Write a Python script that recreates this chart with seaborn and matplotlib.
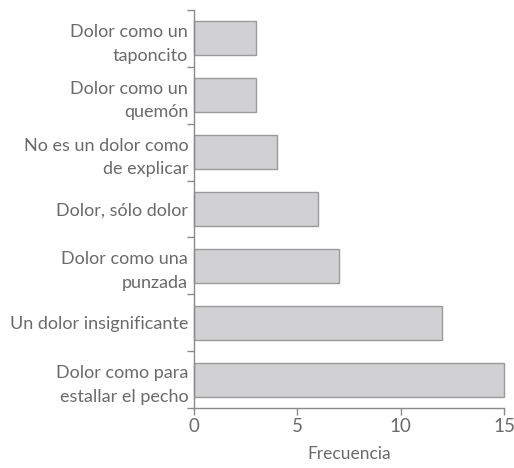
import matplotlib
matplotlib.use("Agg")
import matplotlib.pyplot as plt
import seaborn as sns
import pandas as pd
import numpy as np

categorias = [
    "Dolor como un\ntaponcito",
    "Dolor como un\nquemón",
    "No es un dolor como\nde explicar",
    "Dolor, sólo dolor",
    "Dolor como una\npunzada",
    "Un dolor insignificante",
    "Dolor como para\nestallar el pecho",
]
frecuencia = [3, 3, 4, 6, 7, 12, 15]

df = pd.DataFrame({"categoria": categorias, "frecuencia": frecuencia})

sns.set_style("white")
plt.rcParams["font.family"] = ["Lato", "DejaVu Sans"]

gris = "#6a6a6a"
fig = plt.figure(figsize=(5.14, 4.68), dpi=100)
ax = fig.add_axes([0.377, 0.128, 0.604, 0.851])

sns.barplot(data=df, x="frecuencia", y="categoria", orient="h",
            color="#d1d1d3", edgecolor="#9a9a9a", linewidth=1.0,
            width=0.6, saturation=1, ax=ax)
for p in ax.patches:
    p.set_clip_on(False)

ax.set_xlim(0, 15)
ax.set_ylim(6.5, -0.5)
ax.set_xticks([0, 5, 10, 15])
ax.set_yticks(range(len(categorias)))
ax.set_yticks(np.arange(-0.5, len(categorias)), minor=True)
ax.set_yticklabels(categorias, linespacing=1.6)

ax.tick_params(axis="y", which="major", length=0, pad=4, labelsize=13, labelcolor=gris)
ax.tick_params(axis="y", which="minor", length=5, width=1, color="#8a8a8a", left=True)
ax.tick_params(axis="x", length=5, width=1, color="#8a8a8a", labelsize=13.5,
               labelcolor=gris, bottom=True, pad=2)

for s in ["top", "right"]:
    ax.spines[s].set_visible(False)
for s in ["left", "bottom"]:
    ax.spines[s].set_color("#8a8a8a")
    ax.spines[s].set_linewidth(1)

ax.set_xlabel("Frecuencia", fontsize=12.5, color=gris, labelpad=8)
ax.set_ylabel("")

fig.savefig("out.png", dpi=100)
